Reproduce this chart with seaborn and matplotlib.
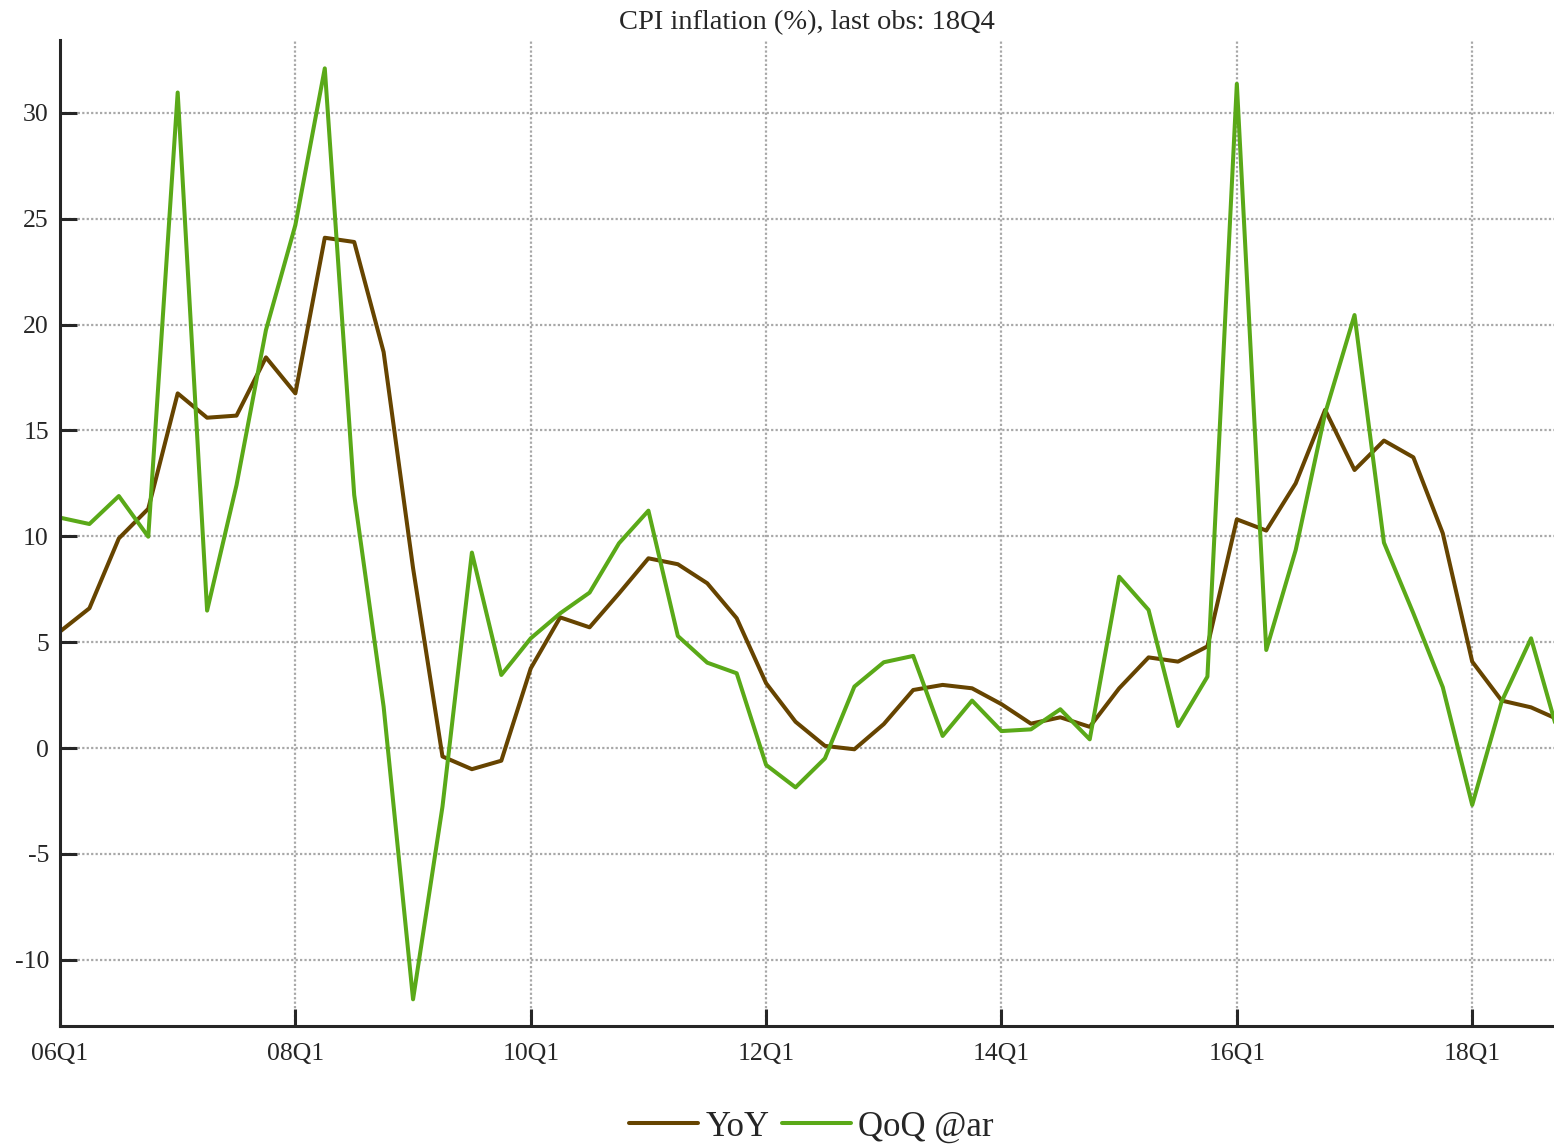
import pandas as pd
import seaborn as sns
import matplotlib.pyplot as plt

# quarterly data 06Q1 .. 18Q4
yoy = [5.5, 6.6, 9.9, 11.3,
       16.75, 15.6, 15.7, 18.45,
       16.75, 24.1, 23.9, 18.7,
       8.5, -0.4, -1.0, -0.6,
       3.76, 6.17, 5.7, 7.3,
       8.96, 8.68, 7.78, 6.13,
       3.06, 1.24, 0.1, -0.06,
       1.13, 2.74, 2.98, 2.82,
       2.07, 1.15, 1.45, 1.0,
       2.82, 4.28, 4.08, 4.8,
       10.8, 10.27, 12.5, 15.97,
       13.13, 14.52, 13.73, 10.14,
       4.08, 2.24, 1.92, 1.3]

qoq = [10.88, 10.58, 11.9, 9.98,
       30.96, 6.49, 12.42, 19.74,
       24.7, 32.1, 11.95, 1.95,
       -11.87, -2.77, 9.23, 3.45,
       5.18, 6.36, 7.34, 9.67,
       11.21, 5.29, 4.03, 3.53,
       -0.8, -1.86, -0.49, 2.9,
       4.05, 4.35, 0.57, 2.24,
       0.8, 0.88, 1.83, 0.41,
       8.09, 6.52, 1.04, 3.37,
       31.37, 4.63, 9.35, 15.8,
       20.45, 9.7, 6.36, 2.87,
       -2.69, 2.19, 5.18, 0.3]

tick_labels = ["06Q1", "08Q1", "10Q1", "12Q1", "14Q1", "16Q1", "18Q1"]
series_names = ["YoY", "QoQ @ar"]
colors = ["#664400", "#5aa918"]

n = len(yoy)
df = pd.DataFrame({
    "t": list(range(n)) * 2,
    "value": yoy + qoq,
    "series": [series_names[0]] * n + [series_names[1]] * n,
})

sns.set_style("ticks")
plt.rcParams["font.family"] = ["Liberation Serif", "DejaVu Serif"]
plt.rcParams["axes.unicode_minus"] = False

fig = plt.figure(figsize=(15.54, 11.48), dpi=100)
ax = fig.add_axes([60 / 1554, 1 - 1026 / 1148, 1 - 60 / 1554, (1026 - 40) / 1148])

sns.lineplot(data=df, x="t", y="value", hue="series", palette=colors,
             linewidth=2.9, ax=ax, legend=False)

ax.set_xlim(0, 50.78)
ax.set_ylim(-13.13, 33.44)
ax.set_xticks(range(0, n, 8))
ax.set_xticklabels(tick_labels)
ax.set_yticks(range(-10, 31, 5))
ax.set_xlabel("")
ax.set_ylabel("")

ax.grid(True, linestyle=(0, (1, 1)), color="#a8a8a8", linewidth=1.6)
ax.set_axisbelow(True)
for side in ["top", "right"]:
    ax.spines[side].set_visible(False)
for side in ["left", "bottom"]:
    ax.spines[side].set_linewidth(2.2)
    ax.spines[side].set_color("#262626")
ax.tick_params(direction="in", length=12, width=2.2, color="#262626",
               labelsize=18.5, labelcolor="#262626")
ax.tick_params(axis="x", pad=12)
ax.tick_params(axis="y", pad=8)

ax.set_title("CPI inflation (%), last obs: 18Q4", fontsize=20.5, pad=8)

handles = [plt.Line2D([], [], color=c, linewidth=2.9) for c in colors]
fig.legend(handles, series_names, loc="center", bbox_to_anchor=(0.522, 1 - 1127 / 1148),
           ncol=2, frameon=False, fontsize=25, handlelength=2.0,
           handletextpad=0.2, columnspacing=0.35)

fig.savefig("out.png", dpi=100)
